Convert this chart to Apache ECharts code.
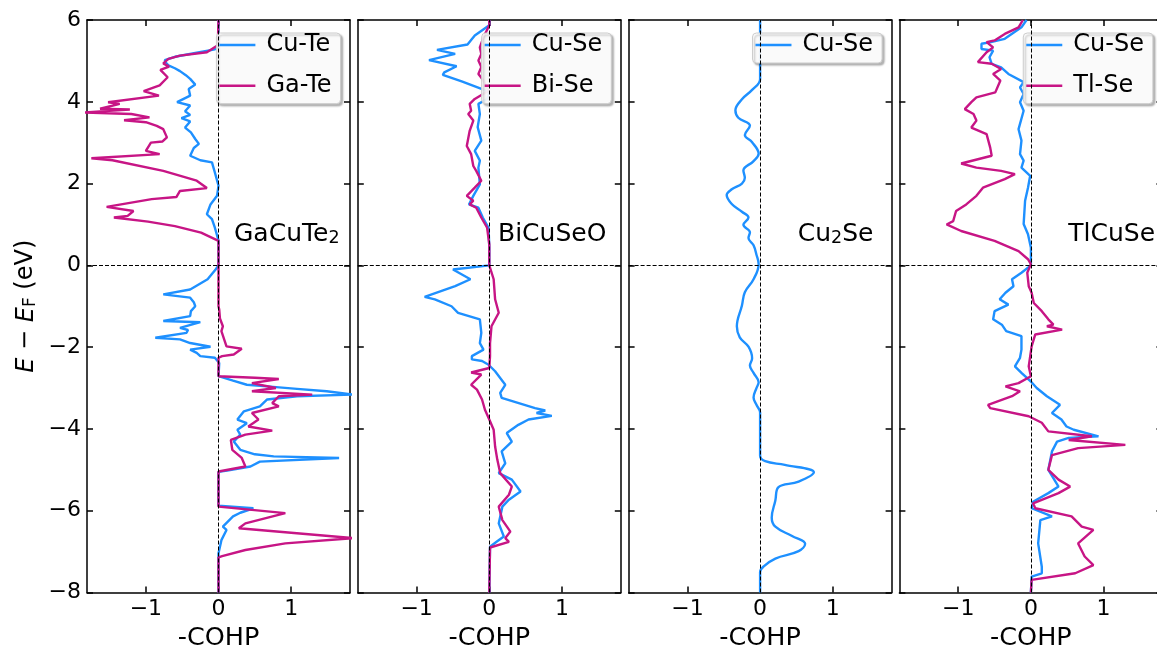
<!DOCTYPE html>
<html>
<head>
<meta charset="utf-8">
<script src="https://cdn.jsdelivr.net/npm/echarts@6/dist/echarts.min.js"></script>
<style>
  html, body { margin: 0; padding: 0; background: #fff; }
  #chart { width: 1157px; height: 651px; }
</style>
</head>
<body>
<div id="chart"></div>
<script>
// Projected crystal orbital Hamilton populations.
// Each entry is [E - E_F (eV), -COHP], ordered from high to low energy.

const gaCuTe2_CuTe = [
  [6.0, 0], [5.36, 0], [5.28, -0.05], [5.2, -0.3], [5.1, -0.6], [5.02, -0.74], [4.95, -0.72],
  [4.89, -0.69], [4.82, -0.6], [4.75, -0.53], [4.65, -0.45], [4.56, -0.39], [4.42, -0.32],
  [4.31, -0.41], [4.15, -0.39], [3.99, -0.57], [3.91, -0.39], [3.77, -0.46], [3.68, -0.39],
  [3.6, -0.51], [3.52, -0.39], [3.37, -0.46], [3.25, -0.38], [3.09, -0.32], [2.97, -0.27],
  [2.87, -0.34], [2.68, -0.39], [2.57, -0.25], [2.52, -0.09], [2.27, -0.05], [1.95, 0],
  [1.7, -0.02], [1.49, -0.11], [1.25, -0.16], [1.13, -0.09], [0.92, -0.05], [0.61, 0],
  [0.0, 0], [-0.1, -0.04], [-0.34, -0.15], [-0.59, -0.39], [-0.71, -0.76], [-0.79, -0.39],
  [-0.9, -0.34], [-1.0, -0.32], [-1.12, -0.38], [-1.24, -0.39], [-1.36, -0.76], [-1.39, -0.25],
  [-1.53, -0.53], [-1.58, -0.42], [-1.65, -0.44], [-1.77, -0.87], [-1.81, -0.53], [-1.9, -0.39],
  [-1.99, -0.11], [-2.06, -0.39], [-2.14, -0.3], [-2.22, -0.25], [-2.26, -0.05], [-2.39, 0.01],
  [-2.71, 0], [-2.82, 0.2], [-2.92, 0.39], [-2.96, 0.67], [-3.02, 1.08], [-3.08, 1.49],
  [-3.16, 1.85], [-3.2, 1.08], [-3.28, 0.67], [-3.45, 0.57], [-3.57, 0.35], [-3.77, 0.26],
  [-3.86, 0.39], [-4.02, 0.26], [-4.14, 0.3], [-4.31, 0.21], [-4.51, 0.3], [-4.62, 0.5],
  [-4.67, 0.76], [-4.71, 1.66], [-4.8, 0.57], [-4.92, 0.44], [-5.02, 0.12], [-5.05, 0],
  [-5.88, 0], [-5.94, 0.48], [-6.05, 0.3], [-6.14, 0.2], [-6.39, 0.06], [-6.47, 0.11],
  [-6.72, 0.04], [-7.04, 0], [-8.0, 0]
];

const gaCuTe2_GaTe = [
  [6.0, 0], [5.38, -0.01], [5.21, -0.16], [5.13, -0.53], [5.05, -0.69], [4.94, -0.76],
  [4.86, -0.68], [4.78, -0.8], [4.6, -0.7], [4.4, -0.81], [4.26, -1.03], [4.15, -0.82],
  [3.99, -1.52], [3.95, -1.36], [3.83, -1.63], [3.81, -1.22], [3.74, -1.85], [3.7, -1.2],
  [3.62, -0.95], [3.55, -1.3], [3.5, -1.0], [3.41, -0.85], [3.33, -0.76], [3.13, -0.71],
  [3.03, -0.77], [3.0, -0.93], [2.8, -1.0], [2.72, -0.81], [2.62, -1.75], [2.57, -1.46],
  [2.31, -0.76], [2.07, -0.3], [1.89, -0.16], [1.82, -0.53], [1.67, -0.58], [1.62, -0.92],
  [1.43, -1.54], [1.33, -1.17], [1.21, -1.25], [1.17, -1.44], [1.07, -0.97], [0.96, -0.6],
  [0.8, -0.24], [0.6, 0], [0.0, 0], [-1.0, 0], [-1.08, 0.01], [-1.3, 0.02], [-1.49, 0.06],
  [-1.53, 0.08], [-1.61, 0.04], [-1.98, 0.11], [-2.04, 0.32], [-2.18, 0.21], [-2.22, 0.05],
  [-2.26, 0], [-2.71, 0], [-2.75, 0.5], [-2.78, 0.83], [-2.88, 0.46], [-3.0, 0.79],
  [-3.08, 0.46], [-3.16, 1.29], [-3.2, 0.83], [-3.37, 0.74], [-3.45, 0.83], [-3.61, 0.46],
  [-3.77, 0.55], [-3.94, 0.41], [-4.04, 0.74], [-4.14, 0.37], [-4.27, 0.17], [-4.51, 0.19],
  [-4.71, 0.32], [-4.92, 0.37], [-5.04, 0], [-5.9, 0], [-6.06, 0.92], [-6.31, 0.37],
  [-6.43, 0.28], [-6.67, 1.85], [-6.8, 0.92], [-6.96, 0.37], [-7.11, 0.05], [-7.14, 0], [-8.0, 0]
];

const biCuSeO_CuSe = [
  [6.0, 0], [5.87, 0], [5.62, -0.2], [5.4, -0.3], [5.27, -0.72], [5.17, -0.47], [5.02, -0.83],
  [4.87, -0.45], [4.72, -0.62], [4.66, -0.64], [4.5, -0.38], [4.3, -0.08], [4.22, 0],
  [4.07, -0.03], [3.95, -0.15], [3.7, -0.13], [3.38, -0.16], [3.05, -0.11], [2.8, -0.2],
  [2.56, -0.13], [2.39, -0.15], [1.98, -0.13], [1.7, -0.22], [1.49, -0.28], [1.41, -0.15],
  [1.17, -0.09], [0.92, -0.01], [0.43, 0], [0.0, 0], [-0.1, -0.5], [-0.34, -0.26],
  [-0.51, -0.47], [-0.77, -0.89], [-0.83, -0.75], [-1.0, -0.52], [-1.16, -0.43], [-1.32, -0.13],
  [-1.65, -0.11], [-1.9, -0.13], [-2.06, -0.08], [-2.22, -0.24], [-2.3, -0.24], [-2.34, -0.1],
  [-2.43, -0.01], [-2.59, 0.08], [-2.92, 0.22], [-3.12, 0.15], [-3.24, 0.17], [-3.49, 0.63],
  [-3.55, 0.77], [-3.61, 0.65], [-3.68, 0.86], [-3.77, 0.54], [-3.9, 0.4], [-4.1, 0.24],
  [-4.31, 0.31], [-4.55, 0.17], [-4.84, 0.22], [-5.08, 0.13], [-5.24, 0.31], [-5.53, 0.43],
  [-5.73, 0.27], [-5.9, 0.18], [-6.31, 0.13], [-6.63, 0.2], [-6.76, 0.1], [-6.88, 0.01],
  [-6.9, 0], [-8.0, 0]
];

const biCuSeO_BiSe = [
  [6.0, 0], [5.87, 0], [5.58, -0.08], [5.33, -0.13], [5.17, -0.11], [5.01, -0.15], [4.85, -0.11],
  [4.68, -0.15], [4.52, -0.08], [4.27, -0.01], [4.07, -0.2], [3.95, -0.27], [3.78, -0.25],
  [3.7, -0.29], [3.54, -0.22], [3.29, -0.27], [2.92, -0.31], [2.72, -0.25], [2.43, -0.22],
  [2.31, -0.18], [2.07, -0.11], [1.9, -0.2], [1.7, -0.31], [1.58, -0.22], [1.49, -0.27],
  [1.41, -0.18], [1.17, -0.11], [0.92, -0.03], [0.51, 0], [0.0, 0], [-0.34, 0.06],
  [-0.83, 0.08], [-1.16, 0.13], [-1.49, 0.03], [-1.9, 0.01], [-2.22, 0.01], [-2.51, 0],
  [-2.62, -0.25], [-2.67, -0.11], [-2.92, -0.25], [-3.04, -0.17], [-3.28, -0.1], [-3.53, -0.06],
  [-3.77, 0], [-4.02, 0.06], [-4.43, 0.08], [-4.75, 0.11], [-5.08, 0.15], [-5.41, 0.31],
  [-5.61, 0.27], [-5.9, 0.13], [-6.23, 0.18], [-6.51, 0.29], [-6.67, 0.22], [-6.76, 0.27],
  [-6.9, 0.01], [-6.92, 0], [-8.0, 0]
];

const cu2Se_CuSe = [
  [6.0, 0], [4.55, 0], [4.29, -0.11], [4.06, -0.25], [3.79, -0.34], [3.61, -0.3], [3.42, -0.14],
  [3.19, -0.21], [3.01, -0.11], [2.73, -0.02], [2.55, -0.09], [2.32, -0.23], [2.14, -0.21],
  [2.0, -0.25], [1.86, -0.39], [1.72, -0.46], [1.5, -0.39], [1.31, -0.25], [1.17, -0.16],
  [0.99, -0.23], [0.81, -0.14], [0.67, -0.16], [0.49, -0.09], [0.26, -0.05], [0.03, -0.02],
  [-0.34, -0.09], [-0.66, -0.21], [-0.98, -0.25], [-1.49, -0.32], [-1.76, -0.28], [-1.99, -0.16],
  [-2.27, -0.11], [-2.45, -0.14], [-2.63, -0.09], [-2.86, -0.02], [-3.0, -0.05], [-3.23, -0.09],
  [-3.41, -0.05], [-3.6, 0], [-4.65, 0], [-4.79, 0.07], [-4.88, 0.34], [-5.06, 0.74],
  [-5.29, 0.53], [-5.43, 0.25], [-5.75, 0.21], [-6.17, 0.16], [-6.39, 0.21], [-6.62, 0.44],
  [-6.81, 0.62], [-6.99, 0.53], [-7.17, 0.21], [-7.36, 0.05], [-7.5, 0], [-8.0, 0]
];

const tlCuSe_CuSe = [
  [6.0, -0.06], [5.82, -0.13], [5.54, -0.36], [5.46, -0.55], [5.42, -0.68], [5.29, -0.68],
  [5.25, -0.52], [5.09, -0.57], [4.93, -0.54], [4.84, -0.41], [4.68, -0.31], [4.48, -0.1],
  [4.35, -0.15], [4.19, -0.1], [3.99, -0.15], [3.78, -0.1], [3.33, -0.17], [3.05, -0.13],
  [2.72, -0.15], [2.56, -0.1], [2.39, -0.13], [2.19, -0.01], [1.9, -0.04], [1.58, -0.08],
  [1.01, -0.1], [0.76, -0.04], [0.43, 0], [0.0, 0], [-0.18, -0.13], [-0.34, -0.26],
  [-0.51, -0.24], [-0.67, -0.35], [-0.83, -0.43], [-0.96, -0.31], [-1.12, -0.5], [-1.32, -0.52],
  [-1.45, -0.4], [-1.61, -0.34], [-1.73, -0.13], [-2.06, -0.13], [-2.26, -0.15], [-2.47, -0.22],
  [-2.63, -0.13], [-2.84, 0], [-3.0, 0.08], [-3.2, 0.22], [-3.41, 0.4], [-3.61, 0.29],
  [-3.77, 0.42], [-3.94, 0.49], [-4.02, 0.59], [-4.18, 0.93], [-4.22, 0.52], [-4.31, 0.36],
  [-4.55, 0.29], [-5.0, 0.24], [-5.41, 0.38], [-5.57, 0.24], [-5.78, 0.03], [-5.94, 0.01],
  [-6.14, 0.29], [-6.23, 0.13], [-6.8, 0.1], [-7.37, 0.15], [-7.53, 0.15], [-7.61, 0.01],
  [-7.65, 0], [-8.0, 0]
];

const tlCuSe_TlSe = [
  [6.0, -0.11], [5.82, -0.17], [5.66, -0.36], [5.5, -0.5], [5.46, -0.61], [5.33, -0.52],
  [5.21, -0.61], [4.97, -0.73], [4.93, -0.54], [4.8, -0.41], [4.68, -0.52], [4.52, -0.42],
  [4.23, -0.49], [4.11, -0.75], [3.99, -0.82], [3.82, -0.91], [3.7, -0.79], [3.54, -0.75],
  [3.37, -0.82], [3.21, -0.61], [2.88, -0.56], [2.68, -0.54], [2.49, -0.96], [2.39, -0.75],
  [2.31, -0.41], [2.23, -0.22], [2.11, -0.36], [1.9, -0.66], [1.7, -0.75], [1.49, -0.89],
  [1.33, -1.03], [1.08, -1.07], [1.0, -1.16], [0.84, -0.96], [0.6, -0.5], [0.35, -0.17],
  [0.15, -0.04], [0.03, 0], [0.0, 0], [-0.18, -0.05], [-0.51, -0.03], [-0.67, 0.01],
  [-0.92, 0.04], [-1.12, 0.15], [-1.32, 0.24], [-1.45, 0.31], [-1.49, 0.22], [-1.57, 0.43],
  [-1.69, 0.06], [-1.98, 0.01], [-2.47, -0.03], [-2.71, 0], [-2.88, -0.17], [-2.96, -0.35],
  [-3.08, -0.15], [-3.2, -0.26], [-3.41, -0.59], [-3.49, -0.56], [-3.69, -0.03], [-3.85, 0.15],
  [-4.06, 0.24], [-4.18, 0.84], [-4.27, 0.52], [-4.39, 1.3], [-4.47, 0.65], [-4.64, 0.29],
  [-5.0, 0.24], [-5.24, 0.38], [-5.41, 0.54], [-5.57, 0.38], [-5.82, 0.03], [-5.94, 0.06],
  [-6.14, 0.56], [-6.39, 0.7], [-6.47, 0.86], [-6.8, 0.65], [-7.12, 0.74], [-7.33, 0.86],
  [-7.53, 0.61], [-7.69, 0.01], [-7.72, 0], [-8.0, 0]
];

// compound names, with "_n" marking a subscript
const compounds = ['GaCuTe_2', 'BiCuSeO', 'Cu_2Se', 'TlCuSe'];
const cohpTicks = [-1, 0, 1];

const FONT = 'DejaVu Sans';
const BLUE = '#1e90ff';
const MAGENTA = '#c71585';

const panels = [
  { label: compounds[0], curves: [
    { name: 'Cu-Te', data: gaCuTe2_CuTe, color: BLUE },
    { name: 'Ga-Te', data: gaCuTe2_GaTe, color: MAGENTA } ] },
  { label: compounds[1], curves: [
    { name: 'Cu-Se', data: biCuSeO_CuSe, color: BLUE },
    { name: 'Bi-Se', data: biCuSeO_BiSe, color: MAGENTA } ] },
  { label: compounds[2], smooth: true, curves: [
    { name: 'Cu-Se', data: cu2Se_CuSe, color: BLUE } ] },
  { label: compounds[3], curves: [
    { name: 'Cu-Se', data: tlCuSe_CuSe, color: BLUE },
    { name: 'Tl-Se', data: tlCuSe_TlSe, color: MAGENTA } ] }
];

// panel geometry (px)
const GRID_LEFT = 87, GRID_STEP = 270.8, GRID_W = 263, GRID_TOP = 20, GRID_H = 572.5;
const CHART_W = 1157;
const labelLeft = [234, 498, 797.7, 1068.3];
const labelTop = 222;

const minus = v => String(v).replace('-', '\u2212');
// "Cu_2Se" -> rich text with a lowered, smaller "2"
const formula = s => s.split(/(_\d)/).filter(t => t).map(t =>
  t[0] === '_' ? `{s|${t.slice(1)}}` : `{n|${t}}`).join('');

const frameLine = { show: true, onZero: false, lineStyle: { color: '#000', width: 1.5 } };
const tickStyle = { color: '#000', width: 1.5 };

const grid = [], xAxis = [], yAxis = [], series = [], legend = [], graphic = [];

panels.forEach((p, i) => {
  const left = GRID_LEFT + i * GRID_STEP;
  grid.push({ left, top: GRID_TOP, width: GRID_W, height: GRID_H,
    containLabel: false, outerBoundsMode: 'none' });

  const xBase = { gridIndex: i, type: 'value', min: -1.81, max: 1.81, splitLine: { show: false },
    axisLine: frameLine };
  xAxis.push(Object.assign({}, xBase, {
    position: 'bottom',
    name: '-COHP', nameLocation: 'middle', nameGap: 32,
    nameTextStyle: { fontFamily: FONT, fontSize: 25.5, color: '#000' },
    axisTick: { show: true, inside: true, length: 6, customValues: cohpTicks, lineStyle: tickStyle },
    axisLabel: { show: true, customValues: cohpTicks, formatter: minus, fontFamily: FONT,
      fontSize: 22, color: '#000', margin: 6 }
  }));
  xAxis.push(Object.assign({}, xBase, {
    position: 'top',
    axisTick: { show: true, inside: true, length: 6, customValues: cohpTicks, lineStyle: tickStyle },
    axisLabel: { show: false }
  }));

  const yBase = { gridIndex: i, type: 'value', min: -8, max: 6, interval: 2,
    splitLine: { show: false }, axisLine: frameLine,
    axisTick: { show: true, inside: true, length: 6, lineStyle: tickStyle } };
  const yLeft = Object.assign({}, yBase, {
    position: 'left',
    axisLabel: { show: i === 0, formatter: minus, fontFamily: FONT, fontSize: 22,
      color: '#000', margin: 6, padding: [4, 0, 0, 0] }
  });
  if (i === 0) {
    Object.assign(yLeft, {
      name: '{i|E} − {i|E}{s|F} (eV)', nameLocation: 'middle', nameGap: 48, nameRotate: 90,
      nameTextStyle: { fontFamily: FONT, fontSize: 24, color: '#000',
        rich: {
          i: { fontFamily: FONT, fontSize: 24, fontStyle: 'italic', color: '#000', lineHeight: 26, verticalAlign: 'bottom' },
          s: { fontFamily: FONT, fontSize: 17, color: '#000', lineHeight: 20, verticalAlign: 'bottom' }
        } }
    });
  }
  yAxis.push(yLeft);
  yAxis.push(Object.assign({}, yBase, { position: 'right', axisLabel: { show: false } }));

  p.curves.forEach((c, k) => {
    const s = {
      type: 'line', name: c.name, xAxisIndex: 2 * i, yAxisIndex: 2 * i,
      data: c.data.map(([e, v]) => [v, e]),
      symbol: 'none', showSymbol: false, clip: true,
      color: c.color, lineStyle: { color: c.color, width: 2.4 },
      smooth: p.smooth ? 0.4 : false,
      silent: true
    };
    if (k === p.curves.length - 1) {
      s.markLine = {
        silent: true, symbol: ['none', 'none'], label: { show: false },
        lineStyle: { color: '#000', type: [4, 2], width: 1 },
        data: [{ xAxis: 0 }, { yAxis: 0 }]
      };
    }
    series.push(s);
  });

  legend.push({
    data: p.curves.map(c => c.name),
    orient: 'vertical',
    right: CHART_W - (left + GRID_W - 9.5),
    top: 33,
    icon: 'rect', itemWidth: 36, itemHeight: 2.5, itemGap: 16.7,
    padding: [0, 9, 6, 3],
    backgroundColor: 'rgba(255,255,255,0.92)',
    borderColor: '#cccccc', borderWidth: 1, borderRadius: 4,
    shadowColor: 'rgba(0,0,0,0.3)', shadowBlur: 2, shadowOffsetX: 2, shadowOffsetY: 2,
    selectedMode: false,
    textStyle: { fontFamily: FONT, fontSize: 24, color: '#000', lineHeight: 24, padding: [0, 0, 0, 6] }
  });

  graphic.push({
    type: 'text', left: labelLeft[i], top: labelTop, z: 50,
    style: {
      text: formula(p.label), fill: '#000',
      rich: {
        n: { fontFamily: FONT, fontSize: 25, lineHeight: 30, verticalAlign: 'bottom', fill: '#000' },
        s: { fontFamily: FONT, fontSize: 17.5, lineHeight: 18, verticalAlign: 'bottom', fill: '#000' }
      }
    }
  });
});

const chart = echarts.init(document.getElementById('chart'), null, { renderer: 'canvas' });
chart.setOption({
  animation: false,
  backgroundColor: '#fff',
  grid, xAxis, yAxis, series, legend, graphic
});
</script>
</body>
</html>
